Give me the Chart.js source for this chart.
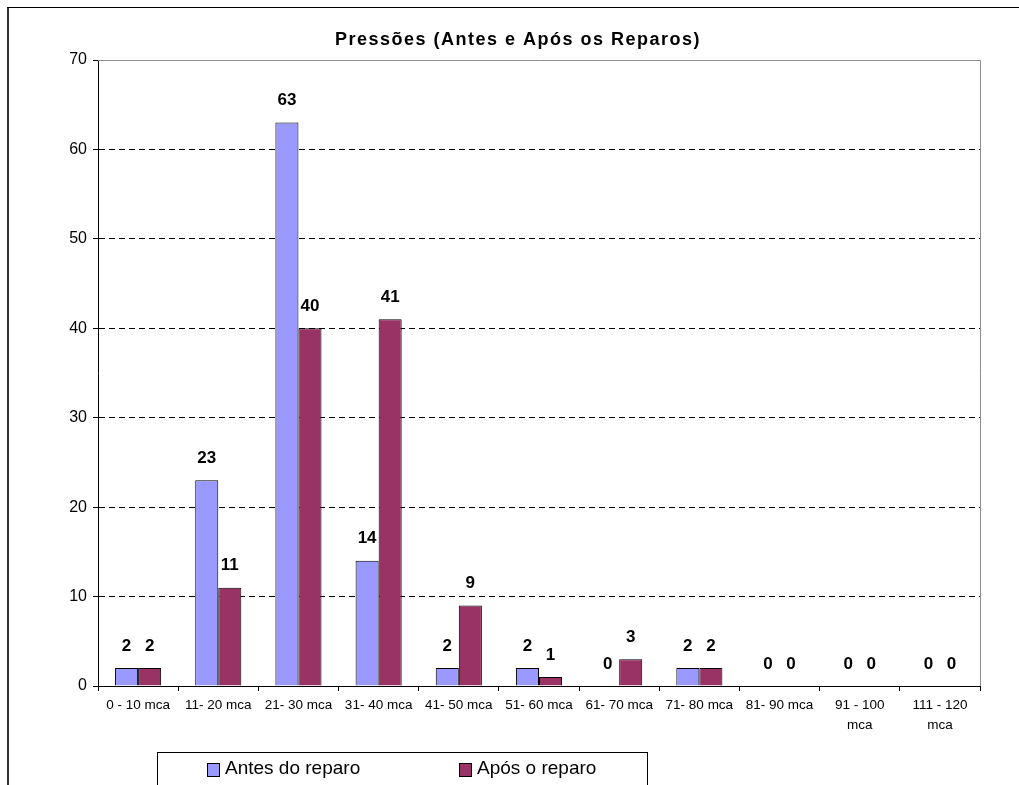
<!DOCTYPE html>
<html>
<head>
<meta charset="utf-8">
<script src="https://cdn.jsdelivr.net/npm/chart.js@4"></script>
<style>
  body { margin: 0; background: #fff; }
  #wrap { width: 1019px; height: 785px; position: relative; }
</style>
</head>
<body>
<div id="wrap"><canvas id="pressoes"></canvas></div>
<script>
"use strict";

const titulo = "Pressões (Antes e Após os Reparos)";
const faixas = ["0 - 10 mca", "11- 20 mca", "21- 30 mca", "31- 40 mca", "41- 50 mca",
    "51- 60 mca", "61- 70 mca", "71- 80 mca", "81- 90 mca", ["91 - 100", "mca"], ["111 - 120", "mca"]];
const antes = [2, 23, 63, 14, 2, 2, 0, 2, 0, 0, 0];
const apos = [2, 11, 40, 41, 9, 1, 3, 2, 0, 0, 0];
const yTicks = [0, 10, 20, 30, 40, 50, 60, 70];

const FONT = "Arial, 'Liberation Sans', sans-serif";

// moldura externa, borda da area de plotagem, titulo, rotulos e legenda
const extras = {
    id: "extras",
    beforeDraw: (chart) => {
        const ctx = chart.ctx;
        ctx.save();
        ctx.fillStyle = "#fff";
        ctx.fillRect(0, 0, chart.width, chart.height);
        ctx.fillStyle = "#333";
        ctx.fillRect(7, 7, 2, chart.height - 7);
        ctx.fillStyle = "#000";
        ctx.fillRect(7, 7, chart.width - 7, 1);
        ctx.restore();
    },
    beforeDatasetsDraw: (chart) => {
        const ctx = chart.ctx;
        const a = chart.chartArea;
        ctx.save();
        ctx.strokeStyle = "#8c8c8c";
        ctx.lineWidth = 1;
        ctx.beginPath();
        ctx.moveTo(a.left, a.top + 0.5);
        ctx.lineTo(a.right + 0.5, a.top + 0.5);
        ctx.lineTo(a.right + 0.5, a.bottom);
        ctx.stroke();
        ctx.restore();
    },
    afterDatasetsDraw: (chart) => {
        const ctx = chart.ctx;
        ctx.save();
        ctx.fillStyle = "#000";
        ctx.textAlign = "center";
        ctx.textBaseline = "middle";
        ctx.font = "bold 17px " + FONT;
        chart.data.datasets.forEach((ds, i) => {
            chart.getDatasetMeta(i).data.forEach((bar, j) => {
                ctx.fillText(String(ds.data[j]), bar.x, bar.y - 22);
            });
        });

        // titulo
        ctx.font = "bold 18px " + FONT;
        ctx.letterSpacing = "1.5px";
        ctx.fillText(titulo, 518, 40);
        ctx.letterSpacing = "0px";

        // legenda
        ctx.strokeStyle = "#000";
        ctx.lineWidth = 1;
        ctx.strokeRect(157.5, 752.5, 490, 60);
        ctx.font = "19px " + FONT;
        ctx.textAlign = "left";
        const xs = [207, 459];
        chart.data.datasets.forEach((ds, i) => {
            ctx.fillStyle = ds.backgroundColor;
            ctx.fillRect(xs[i], 763, 12, 13);
            ctx.strokeRect(xs[i] + 0.5, 763.5, 12, 13);
            ctx.fillStyle = "#000";
            ctx.fillText(ds.label, xs[i] + 18, 769);
        });
        ctx.restore();
    }
};

new Chart(document.getElementById("pressoes"), {
    type: "bar",
    data: {
        labels: faixas,
        datasets: [
            {
                label: "Antes do reparo",
                data: antes,
                backgroundColor: "#9999FF",
                borderColor: "#000",
                borderWidth: 1,
                borderSkipped: "bottom"
            },
            {
                label: "Após o reparo",
                data: apos,
                backgroundColor: "#993366",
                borderColor: "#000",
                borderWidth: 1,
                borderSkipped: "bottom"
            }
        ]
    },
    options: {
        responsive: true,
        maintainAspectRatio: false,
        animation: false,
        datasets: {
            bar: { categoryPercentage: 0.575, barPercentage: 1.0 }
        },
        layout: { padding: { left: 0, top: 60, right: 39, bottom: 0 } },
        plugins: {
            legend: { display: false },
            title: { display: false },
            tooltip: { enabled: false }
        },
        scales: {
            x: {
                afterFit: (scale) => { scale.height = 99; },
                grid: {
                    offset: true,
                    drawOnChartArea: false,
                    tickLength: 5,
                    tickColor: "#000"
                },
                border: { color: "#000", width: 1 },
                ticks: {
                    color: "#000",
                    padding: 4,
                    maxRotation: 0,
                    autoSkip: false,
                    font: { family: FONT, size: 13.5, lineHeight: 1.5 }
                }
            },
            y: {
                min: 0,
                max: 70,
                afterFit: (scale) => { scale.width = 98; },
                afterBuildTicks: (scale) => {
                    scale.ticks = yTicks.map((v) => ({ value: v }));
                },
                grid: {
                    color: (c) => (c.tick && (c.tick.value === 0 || c.tick.value === 70)) ? "rgba(0,0,0,0)" : "#000",
                    tickColor: "#000",
                    tickLength: 5,
                    lineWidth: 1
                },
                border: { color: "#000", width: 1, dash: [6, 4] },
                ticks: {
                    color: "#000",
                    padding: 6,
                    font: { family: FONT, size: 16 }
                }
            }
        }
    },
    plugins: [extras]
});
</script>
</body>
</html>
